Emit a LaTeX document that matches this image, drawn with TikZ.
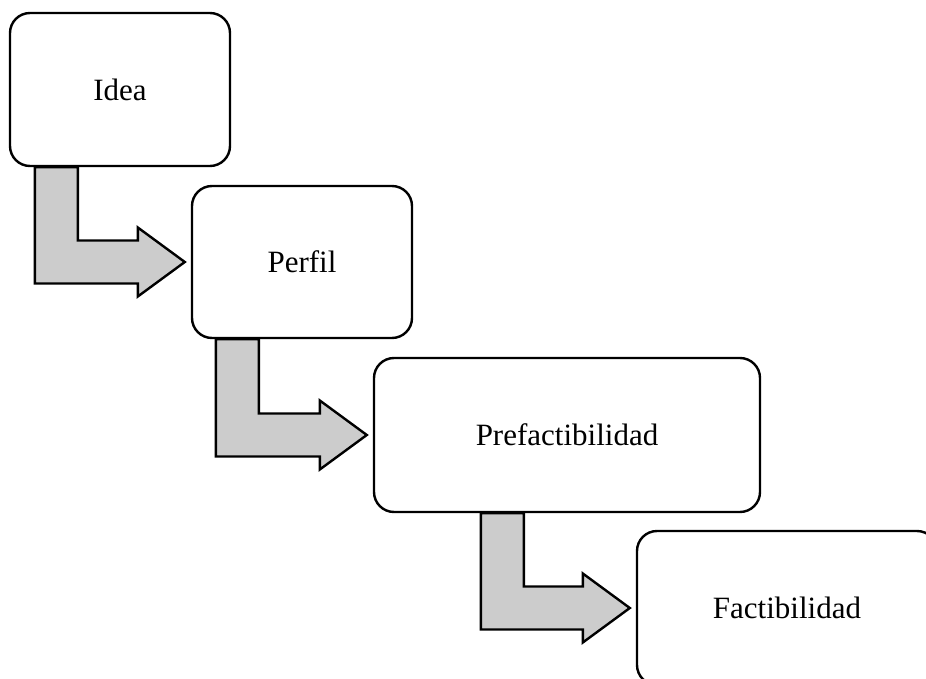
\documentclass[tikz,border=0pt]{standalone}
\usepackage{fontspec}
\setmainfont{Liberation Serif}
\usetikzlibrary{calc,backgrounds}

\tikzset{
  stage/.style={draw=black, fill=white, line width=2.4pt, rounded corners=20pt,
    inner sep=0pt, font=\fontsize{31}{37}\selectfont},
  bentarrowstyle/.style={draw=black, fill=black!20, line width=2.4pt, line join=miter}
}

% Bent block arrow: leaves the bottom of #1 at horizontal offset #3 from its
% left side, turns right and points at the left side of #2.
\newcommand{\bentarrow}[3]{%
  \coordinate (s) at ($(#1.south west)+(#3,0)$);
  \coordinate (t) at ($(#2.west)+(-6,0)$);
  \draw[bentarrowstyle]
    (s) -- ($(s)+(43,0)$)
    -- ($(s |- t)+(43,-21.5)$)
    -- ($(t)+(-47,-21.5)$)
    -- ($(t)+(-47,-34.5)$)
    -- (t)
    -- ($(t)+(-47,34.5)$)
    -- ($(t)+(-47,21.5)$)
    -- ($(s |- t)+(0,21.5)$)
    -- cycle;}

\begin{document}
\begin{tikzpicture}[x=1pt, y=-1pt]
  \useasboundingbox (0,0) rectangle (926,679);
  \clip (0,0) rectangle (926,679);

  \node[stage, minimum width=220pt, minimum height=153pt] (idea) at (120,89.5) {Idea};
  \node[stage, minimum width=220pt, minimum height=152pt] (perfil) at (302,262) {Perfil};
  \node[stage, minimum width=386pt, minimum height=154pt] (prefact) at (567,435) {Prefactibilidad};
  \node[stage, minimum width=300pt, minimum height=154pt] (fact) at (787,608) {Factibilidad};

  \begin{scope}[on background layer]
    \bentarrow{idea}{perfil}{26}
    \bentarrow{perfil}{prefact}{25}
    \bentarrow{prefact}{fact}{108}
  \end{scope}
\end{tikzpicture}
\end{document}
